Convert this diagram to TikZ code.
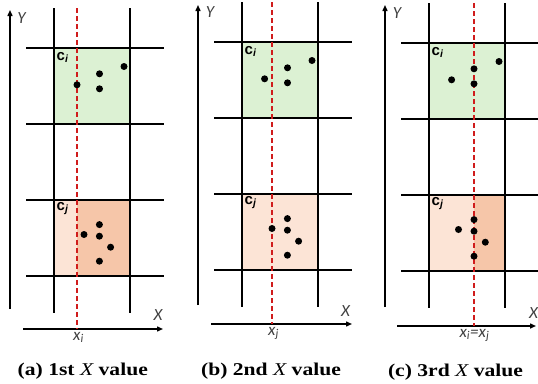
\documentclass[tikz,border=0pt]{standalone}
\usepackage{fontspec}
\setmainfont{Liberation Serif}
\newfontfamily\capfont{Liberation Serif}[FakeStretch=1.2]
\newfontfamily\axfont{Carlito}
\newfontfamily\cellfont{Liberation Sans}
\usetikzlibrary{arrows.meta}
\definecolor{cellgreen}{HTML}{DCF1D3}
\definecolor{celllight}{HTML}{FCE4D6}
\definecolor{celldark}{HTML}{F6C6A9}
\definecolor{cutred}{HTML}{D01C1C}
\definecolor{lblgray}{HTML}{404040}

\begin{document}
\begin{tikzpicture}[x=1pt,y=-1pt,
gridline/.style={black,line width=1.6pt},
axis/.style={black,line width=1.4pt,-{Triangle[length=6pt,width=5pt]}},
cutline/.style={cutred,line width=1.7pt,dash pattern=on 5pt off 3pt},
pt/.style={circle,fill=black,inner sep=0pt,minimum size=7pt},
cellname/.style={font=\cellfont\fontsize{15}{17}\selectfont\bfseries,anchor=base west,inner sep=0pt},
axname/.style={font=\axfont\fontsize{17}{19}\selectfont\itshape,text=lblgray,inner sep=0pt},
caption/.style={font=\capfont\fontsize{18}{20}\selectfont\bfseries,anchor=base}]
\useasboundingbox (0,0) rectangle (538,383);

% (a)
\begin{scope}[shift={(54,48)}]
\fill[cellgreen] (0,0) rectangle (76,76);
\fill[celllight] (0,152) rectangle (23,228);
\fill[celldark] (23,152) rectangle (76,228);
\draw[gridline] (0,-40) -- (0,265);
\draw[gridline] (76,-40) -- (76,265);
\draw[gridline] (-28,0) -- (110,0);
\draw[gridline] (-28,76) -- (110,76);
\draw[gridline] (-28,152) -- (110,152);
\draw[gridline] (-28,228) -- (110,228);
\draw[axis] (-44,261) -- (-44,-38);
\draw[axis] (-31,281) -- (109,281);
\draw[cutline] (23,-40) -- (23,281);
\node[pt] (a-g1) at (70,18.5) {};
\node[pt] (a-g2) at (45.5,25.8) {};
\node[pt] (a-g3) at (23,36.8) {};
\node[pt] (a-g4) at (45.5,40.8) {};
\node[pt] (a-o1) at (45.4,176.6) {};
\node[pt] (a-o2) at (30,186.5) {};
\node[pt] (a-o3) at (45.4,188.2) {};
\node[pt] (a-o4) at (56.6,199.2) {};
\node[pt] (a-o5) at (45.4,213.2) {};
\node[cellname] (a-ci) at (2.5,12) {c\textsubscript{\itshape i}};
\node[cellname] (a-cj) at (2.5,162) {c\textsubscript{\itshape j}};
\node[axname] (a-Y) at (-32.5,-29.5) {Y};
\node[axname] (a-X) at (104,267) {X};
\node[axname,anchor=base] (a-x) at (24.5,292) {x\textsubscript{i}};
\end{scope}

% (b)
\begin{scope}[shift={(242,42)}]
\fill[cellgreen] (0,0) rectangle (76,76);
\fill[celllight] (0,152) rectangle (76,228);
\draw[gridline] (0,-40) -- (0,265);
\draw[gridline] (76,-40) -- (76,265);
\draw[gridline] (-28,0) -- (110,0);
\draw[gridline] (-28,76) -- (110,76);
\draw[gridline] (-28,152) -- (110,152);
\draw[gridline] (-28,228) -- (110,228);
\draw[axis] (-44,263) -- (-44,-37);
\draw[axis] (-31,282) -- (110,282);
\draw[cutline] (30,-40) -- (30,282);
\node[pt] (b-g1) at (70,18.5) {};
\node[pt] (b-g2) at (45.5,25.8) {};
\node[pt] (b-g3) at (22.6,36.8) {};
\node[pt] (b-g4) at (45.5,40.8) {};
\node[pt] (b-o1) at (45.4,176.6) {};
\node[pt] (b-o2) at (30,186.5) {};
\node[pt] (b-o3) at (45.4,188.2) {};
\node[pt] (b-o4) at (56.6,199.2) {};
\node[pt] (b-o5) at (45.4,213.2) {};
\node[cellname] (b-ci) at (2.5,12) {c\textsubscript{\itshape i}};
\node[cellname] (b-cj) at (2.5,162) {c\textsubscript{\itshape j}};
\node[axname] (b-Y) at (-32,-29.5) {Y};
\node[axname] (b-X) at (103.5,269.5) {X};
\node[axname,anchor=base] (b-x) at (31.5,293) {x\textsubscript{j}};
\end{scope}

% (c)
\begin{scope}[shift={(429,43)}]
\fill[cellgreen] (0,0) rectangle (76,76);
\fill[celllight] (0,152) rectangle (45,228);
\fill[celldark] (45,152) rectangle (76,228);
\draw[gridline] (0,-40) -- (0,265);
\draw[gridline] (76,-40) -- (76,265);
\draw[gridline] (-28,0) -- (110,0);
\draw[gridline] (-28,76) -- (110,76);
\draw[gridline] (-28,152) -- (110,152);
\draw[gridline] (-28,228) -- (110,228);
\draw[axis] (-44,264) -- (-44,-38);
\draw[axis] (-32,283) -- (107,283);
\draw[cutline] (45,-40) -- (45,283);
\node[pt] (c-g1) at (70,18.5) {};
\node[pt] (c-g2) at (45,25.8) {};
\node[pt] (c-g3) at (22.6,36.8) {};
\node[pt] (c-g4) at (45,40.8) {};
\node[pt] (c-o1) at (45,176.6) {};
\node[pt] (c-o2) at (29.5,186.5) {};
\node[pt] (c-o3) at (45,188.2) {};
\node[pt] (c-o4) at (56.3,199.2) {};
\node[pt] (c-o5) at (45,213.2) {};
\node[cellname] (c-ci) at (2.5,12) {c\textsubscript{\itshape i}};
\node[cellname] (c-cj) at (2.5,162) {c\textsubscript{\itshape j}};
\node[axname] (c-Y) at (-32,-29.5) {Y};
\node[axname] (c-X) at (104.5,270) {X};
\node[axname,anchor=base] (c-x) at (45.5,294) {x\textsubscript{i}=x\textsubscript{j}};
\end{scope}

\node[caption] (cap-a) at (82.8,375.7) {(a) 1st {\mdseries\itshape X} value};
\node[caption] (cap-b) at (271,375.5) {(b) 2nd {\mdseries\itshape X} value};
\node[caption] (cap-c) at (455.5,376) {(c) 3rd {\mdseries\itshape X} value};
\end{tikzpicture}
\end{document}
